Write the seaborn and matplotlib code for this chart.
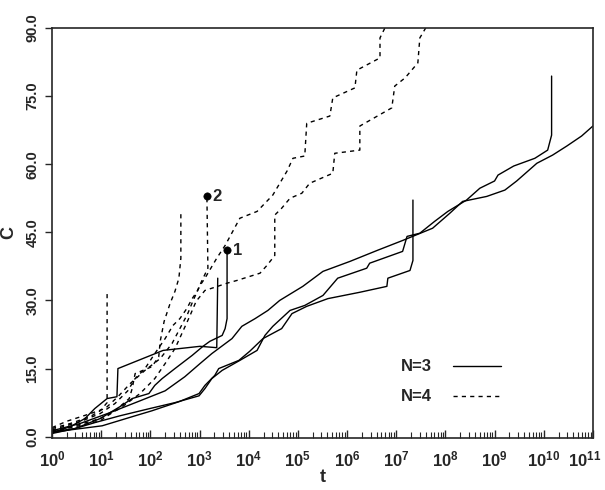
import numpy as np
import pandas as pd
import seaborn as sns
import matplotlib
matplotlib.use("Agg")
import matplotlib.pyplot as plt
import matplotlib.transforms as mtransforms
from matplotlib.lines import Line2D
from matplotlib.ticker import FixedLocator, FormatStrFormatter, LogLocator, NullFormatter

# N=3 runs (solid); positions on the t axis given as log10(t)
n3_a_logt = [0.00, 0.57, 1.18, 1.79, 2.30, 2.70, 3.01, 3.25, 3.66, 3.86, 4.13, 4.39, 4.63, 5.10, 5.51,
             6.06, 6.61, 7.13, 7.74, 8.09, 8.35, 8.84, 9.21, 9.45, 9.86, 10.18, 10.47, 10.77, 11.00]
n3_a_c = [1.3, 2.9, 5.3, 7.9, 10.1, 13.2, 16.1, 18.3, 21.6, 24.3, 26.0, 27.8, 30.0, 33.1, 36.4,
          38.6, 41.0, 43.2, 45.9, 49.2, 51.8, 52.9, 54.3, 56.3, 60.2, 62.0, 64.0, 66.2, 68.4]

n3_b_logt = [0.00, 0.47, 0.87, 1.38, 1.99, 2.50, 2.99, 3.11, 3.25, 3.46, 3.82, 4.17, 4.33, 4.49, 4.84,
             5.14, 5.51, 5.81, 6.40, 6.46, 7.13, 7.22, 7.48, 7.78, 8.05, 8.43, 8.70, 9.00, 9.07, 9.39,
             9.82, 10.08, 10.16, 10.16]
n3_b_c = [1.1, 1.8, 3.1, 4.6, 6.2, 7.5, 9.0, 10.6, 12.8, 14.6, 16.8, 19.0, 22.3, 24.3, 27.8,
          28.9, 31.1, 34.9, 37.1, 38.2, 40.8, 44.1, 44.8, 47.4, 49.6, 52.1, 54.7, 56.3, 57.6, 59.6,
          61.3, 63.1, 66.4, 79.4]

n3_c_logt = [0.00, 0.37, 1.02, 1.69, 2.03, 2.58, 2.99, 3.11, 3.31, 3.39, 3.80, 4.02, 4.29, 4.67, 4.88,
             5.18, 5.61, 6.26, 6.81, 6.83, 7.28, 7.34, 7.34]
n3_c_c = [0.9, 1.5, 2.4, 4.6, 5.7, 7.7, 9.5, 11.3, 13.5, 15.0, 16.8, 18.8, 21.6, 23.8, 27.1,
          28.7, 30.4, 31.8, 33.1, 34.9, 36.6, 38.8, 52.1]

n3_d_logt = [0.00, 0.47, 0.98, 1.38, 1.63, 1.97, 2.09, 2.24, 2.50, 2.85, 3.07, 3.21, 3.46, 3.52, 3.56, 3.56]
n3_d_c = [0.7, 1.8, 4.0, 6.6, 8.4, 9.5, 11.3, 12.8, 15.0, 17.9, 19.9, 21.0, 22.3, 23.8, 26.0, 41.0]

n3_e_logt = [0.00, 0.37, 0.67, 0.87, 1.12, 1.32, 1.34, 2.26, 3.01, 3.35, 3.37]
n3_e_c = [0.9, 2.2, 4.0, 6.2, 8.4, 8.8, 15.0, 19.0, 19.9, 19.6, 34.9]

# N=4 runs (dashed)
n4_a_logt = [0.00, 0.37, 0.77, 0.98, 1.12, 1.12]
n4_a_c = [1.8, 2.9, 4.4, 5.7, 7.5, 32.0]

n4_b_logt = [0.00, 0.47, 0.98, 1.28, 1.57, 1.63, 1.69, 2.03, 2.17, 2.20, 2.28, 2.40, 2.50, 2.58, 2.62, 2.62]
n4_b_c = [1.1, 2.2, 3.5, 5.7, 8.4, 10.6, 13.9, 15.4, 17.6, 21.0, 25.4, 29.3, 32.0, 34.9, 39.3, 49.6]

n4_c_logt = [0.00, 0.57, 0.98, 1.28, 1.54, 1.69, 1.89, 2.09, 2.30, 2.46, 2.60, 2.74, 2.85, 2.95, 3.05,
             3.17, 3.15]
n4_c_c = [1.5, 3.3, 5.1, 7.3, 10.1, 12.8, 15.0, 18.3, 21.6, 24.5, 26.0, 28.2, 30.4, 32.0, 34.4,
          37.1, 52.9]

n4_d_logt = [0.00, 0.30, 0.70, 1.08, 1.34, 1.59, 1.89, 2.20, 2.44, 2.60, 2.76, 2.87, 3.01, 3.11, 3.35,
             3.52, 3.62, 3.82, 4.17, 4.49, 4.78, 4.90, 5.14, 5.18, 5.65, 5.71, 6.16, 6.20, 6.67, 6.67,
             6.77, 6.91]
n4_d_c = [2.0, 3.4, 4.8, 6.2, 8.8, 11.7, 14.6, 17.2, 20.5, 23.8, 27.1, 30.0, 33.3, 34.9, 39.3,
          42.1, 44.1, 48.1, 49.6, 53.2, 58.5, 61.3, 61.8, 69.0, 70.6, 74.6, 76.8, 80.7, 83.4, 87.8,
          90.0, 90.4]

n4_e_logt = [0.00, 0.47, 0.98, 1.38, 1.79, 2.09, 2.30, 2.50, 2.64, 2.80, 2.93, 3.11, 3.31, 3.56, 3.76,
             4.23, 4.37, 4.53, 4.53, 4.67, 4.84, 5.08, 5.24, 5.71, 5.75, 6.26, 6.26, 6.91, 6.97, 7.18,
             7.44, 7.48, 7.60]
n4_e_c = [1.3, 2.4, 4.0, 6.2, 9.5, 12.8, 16.1, 19.4, 22.7, 26.5, 29.8, 32.2, 32.9, 33.8, 34.4,
          36.0, 37.7, 39.9, 48.8, 50.3, 52.5, 53.6, 55.8, 58.0, 62.4, 63.1, 68.4, 72.4, 77.2, 79.0,
          82.3, 87.8, 90.0]

# marked end points
mark_logt = [3.56, 3.15]
mark_c = [41.0, 52.9]
mark_labels = ["1", "2"]

runs = [
    ("N=3", n3_a_logt, n3_a_c), ("N=3", n3_b_logt, n3_b_c), ("N=3", n3_c_logt, n3_c_c),
    ("N=3", n3_d_logt, n3_d_c), ("N=3", n3_e_logt, n3_e_c),
    ("N=4", n4_a_logt, n4_a_c), ("N=4", n4_b_logt, n4_b_c), ("N=4", n4_c_logt, n4_c_c),
    ("N=4", n4_d_logt, n4_d_c), ("N=4", n4_e_logt, n4_e_c),
]
rows = []
for k, (n, lt, c) in enumerate(runs):
    for x, y in zip(lt, c):
        rows.append({"run": k, "N": n, "t": 10 ** x, "C": y})
df = pd.DataFrame(rows)

sns.set_style("ticks")
plt.rcParams["font.family"] = ["Liberation Sans", "DejaVu Sans"]
plt.rcParams["mathtext.fontset"] = "custom"
plt.rcParams["mathtext.rm"] = "Liberation Sans:bold"
plt.rcParams["mathtext.bf"] = "Liberation Sans:bold"
plt.rcParams["mathtext.default"] = "rm"

fig, ax = plt.subplots(figsize=(6.05, 4.9), dpi=100)
fig.subplots_adjust(left=0.086, right=0.980, top=0.943, bottom=0.106)
ax.set_xscale("log")

sns.lineplot(data=df, x="t", y="C", units="run", estimator=None, style="N",
             dashes={"N=3": "", "N=4": (3, 3)}, color="black", lw=1.0,
             sort=False, legend=False, ax=ax)

mk = pd.DataFrame({"t": [10 ** v for v in mark_logt], "C": mark_c})
sns.scatterplot(data=mk, x="t", y="C", color="black", s=28, edgecolor="black", zorder=5, ax=ax)
for x, y, s in zip(mk["t"], mk["C"], mark_labels):
    ax.annotate(s, (x, y), xytext=(4, 0), textcoords="offset points",
                va="center", ha="left", fontsize=12, fontweight="bold")

ax.set_xlim(1, 1e11)
ax.set_ylim(-0.3, 90)

ax.xaxis.set_minor_locator(LogLocator(base=10, subs=np.arange(2, 10), numticks=100))
ax.xaxis.set_minor_formatter(NullFormatter())
ax.set_xticks([10 ** i for i in range(12)])
ax.set_xticklabels([r"$10^{%d}$" % i for i in range(12)], fontsize=12)
ax.tick_params(axis="x", which="major", direction="in", length=6, width=1, pad=8)
ax.tick_params(axis="x", which="minor", direction="in", length=4, width=0.8)
# keep the last label inside the figure
last = ax.get_xticklabels()[-1]
last.set_transform(last.get_transform() + mtransforms.ScaledTranslation(-6 / 72, 0, fig.dpi_scale_trans))

ax.yaxis.set_major_locator(FixedLocator([0, 15, 30, 45, 60, 75, 90]))
ax.yaxis.set_major_formatter(FormatStrFormatter("%.1f"))
ax.tick_params(axis="y", direction="out", length=5, width=1, pad=4)
for lab in ax.get_yticklabels():
    lab.set_rotation(90)
    lab.set_va("center")
    lab.set_fontsize(10.5)
    lab.set_fontweight("bold")

for sp in ax.spines.values():
    sp.set_linewidth(1.2)

ax.set_xlabel("t", fontsize=13, fontweight="bold", labelpad=0)
ax.set_ylabel("C", fontsize=13, fontweight="bold", labelpad=6)

handles = [Line2D([], [], color="black", lw=1.0),
           Line2D([], [], color="black", lw=1.0, dashes=(3, 3))]
ax.legend(handles, ["N=3", "N=4"], markerfirst=False, frameon=False,
          loc="center left", bbox_to_anchor=(0.645, 0.137), borderpad=0, borderaxespad=0,
          handlelength=2.9, handletextpad=1.25, labelspacing=0.9,
          prop={"size": 12, "weight": "bold"})

fig.savefig("out.png", dpi=100)
